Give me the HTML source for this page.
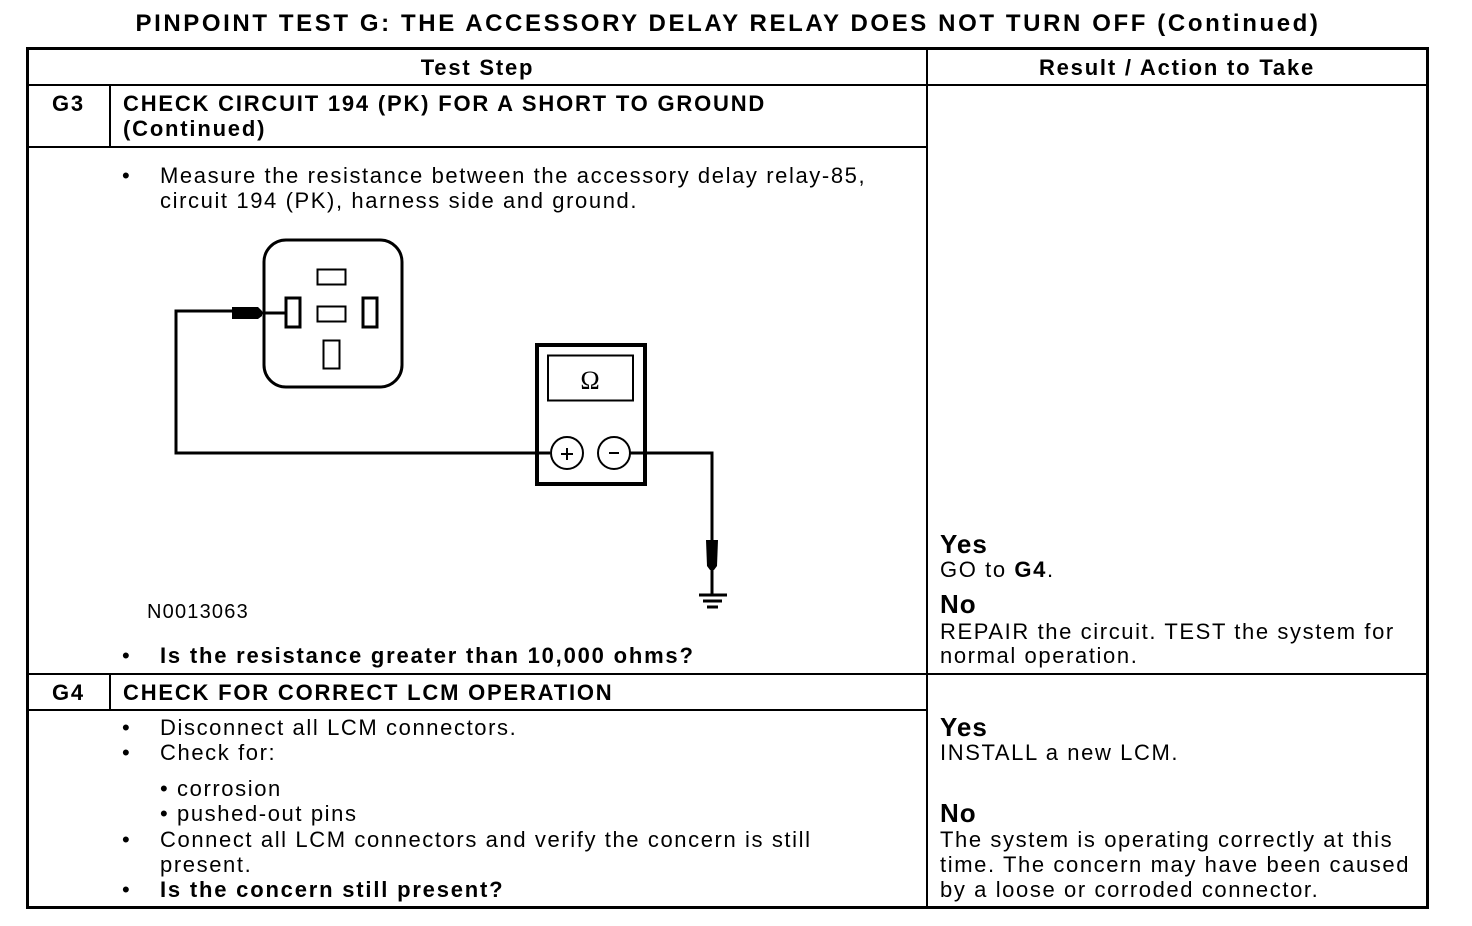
<!DOCTYPE html>
<html><head><meta charset="utf-8"><style>
body{margin:0;width:1472px;height:926px;background:#fff;position:relative;overflow:hidden;font-family:"Liberation Sans",Arial,sans-serif;color:#000}
.t{position:absolute;white-space:nowrap;font-size:22px;line-height:25px;letter-spacing:1.6px}
.b{font-weight:bold;letter-spacing:1.8px}
.l{position:absolute;background:#000}
</style></head><body>
<div class="t b" style="left:0;width:1456px;text-align:center;top:10px;font-size:24px;line-height:28px;letter-spacing:2.6px">PINPOINT TEST G: THE ACCESSORY DELAY RELAY DOES NOT TURN OFF (Continued)</div>
<div class="l" style="left:26px;top:47px;width:1403px;height:3px"></div>
<div class="l" style="left:26px;top:906px;width:1403px;height:3px"></div>
<div class="l" style="left:26px;top:47px;width:3px;height:862px"></div>
<div class="l" style="left:1426px;top:47px;width:3px;height:862px"></div>
<div class="l" style="left:926px;top:47px;width:2px;height:862px"></div>
<div class="l" style="left:26px;top:84px;width:1403px;height:2px"></div>
<div class="l" style="left:26px;top:146px;width:902px;height:2px"></div>
<div class="l" style="left:109px;top:84px;width:2px;height:64px"></div>
<div class="l" style="left:26px;top:673px;width:1403px;height:2px"></div>
<div class="l" style="left:26px;top:709px;width:902px;height:2px"></div>
<div class="l" style="left:109px;top:673px;width:2px;height:38px"></div>

<div class="t b" style="left:29px;width:897px;text-align:center;top:55px">Test Step</div>
<div class="t b" style="left:928px;width:498px;text-align:center;top:55px">Result / Action to Take</div>
<div class="t b" style="left:52px;top:91px">G3</div>
<div class="t b" style="left:123px;top:91px">CHECK CIRCUIT 194 (PK) FOR A SHORT TO GROUND</div>
<div class="t b" style="left:123px;top:116px">(Continued)</div>
<div class="t" style="left:122px;top:163px">•</div>
<div class="t" style="left:160px;top:163px">Measure the resistance between the accessory delay relay-85,</div>
<div class="t" style="left:160px;top:188px">circuit 194 (PK), harness side and ground.</div>
<div class="t" style="left:147px;top:600px;font-size:20px;letter-spacing:1.2px">N0013063</div>
<div class="t" style="left:122px;top:643px">•</div>
<div class="t b" style="left:160px;top:643px">Is the resistance greater than 10,000 ohms?</div>

<div class="t b" style="left:52px;top:680px">G4</div>
<div class="t b" style="left:123px;top:680px">CHECK FOR CORRECT LCM OPERATION</div>
<div class="t" style="left:122px;top:715px">•</div>
<div class="t" style="left:160px;top:715px">Disconnect all LCM connectors.</div>
<div class="t" style="left:122px;top:740px">•</div>
<div class="t" style="left:160px;top:740px">Check for:</div>
<div class="t" style="left:160px;top:776px">• corrosion</div>
<div class="t" style="left:160px;top:801px">• pushed-out pins</div>
<div class="t" style="left:122px;top:827px">•</div>
<div class="t" style="left:160px;top:827px">Connect all LCM connectors and verify the concern is still</div>
<div class="t" style="left:160px;top:852px">present.</div>
<div class="t" style="left:122px;top:877px">•</div>
<div class="t b" style="left:160px;top:877px">Is the concern still present?</div>

<div class="t b" style="left:940px;top:530px;font-size:26px;line-height:28px;letter-spacing:1px">Yes</div>
<div class="t" style="left:940px;top:557px">GO to <b>G4</b>.</div>
<div class="t b" style="left:940px;top:590px;font-size:26px;line-height:28px;letter-spacing:1px">No</div>
<div class="t" style="left:940px;top:619px">REPAIR the circuit. TEST the system for</div>
<div class="t" style="left:940px;top:643px">normal operation.</div>
<div class="t b" style="left:940px;top:713px;font-size:26px;line-height:28px;letter-spacing:1px">Yes</div>
<div class="t" style="left:940px;top:740px">INSTALL a new LCM.</div>
<div class="t b" style="left:940px;top:799px;font-size:26px;line-height:28px;letter-spacing:1px">No</div>
<div class="t" style="left:940px;top:827px">The system is operating correctly at this</div>
<div class="t" style="left:940px;top:852px">time. The concern may have been caused</div>
<div class="t" style="left:940px;top:877px">by a loose or corroded connector.</div>

<svg style="position:absolute;left:0;top:0" width="1472" height="926">
<g fill="none" stroke="#000">
<rect x="264" y="240" width="138" height="147" rx="22" stroke-width="3"/>
<rect x="317.5" y="269.5" width="28" height="15" stroke-width="2"/>
<rect x="286" y="298" width="14" height="29" stroke-width="3"/>
<rect x="317.5" y="306.5" width="28" height="15" stroke-width="2"/>
<rect x="363" y="298" width="14" height="29" stroke-width="3"/>
<rect x="323.5" y="340.5" width="16" height="28" stroke-width="2"/>
<polyline points="286,313 232,313" stroke-width="3"/>
<polyline points="232,311 176,311 176,453 550,453" stroke-width="3"/>
<rect x="537" y="345" width="108" height="139" stroke-width="4"/>
<rect x="548" y="355.5" width="85" height="45" stroke-width="2"/>
<circle cx="567" cy="453" r="16" stroke-width="2"/>
<circle cx="614" cy="453" r="16" stroke-width="2"/>
<polyline points="630,453 712,453 712,595" stroke-width="3"/>
<line x1="699" y1="595" x2="727" y2="595" stroke-width="3"/>
<line x1="703" y1="601" x2="722" y2="601" stroke-width="3"/>
<line x1="707" y1="607" x2="718" y2="607" stroke-width="3"/>
<line x1="561" y1="454" x2="573" y2="454" stroke-width="2"/>
<line x1="567" y1="448" x2="567" y2="460" stroke-width="2"/>
<line x1="609" y1="453" x2="619" y2="453" stroke-width="2"/>
</g>
<polygon points="232,307 258,307 262,311 262,316 258,319 232,319" fill="#000"/>
<polygon points="706,540 718,540 717,566 714,570 710,570 707,566" fill="#000"/>
<text x="590" y="389" font-family="Liberation Serif,serif" font-size="26" text-anchor="middle">Ω</text>
</svg>
</body></html>
